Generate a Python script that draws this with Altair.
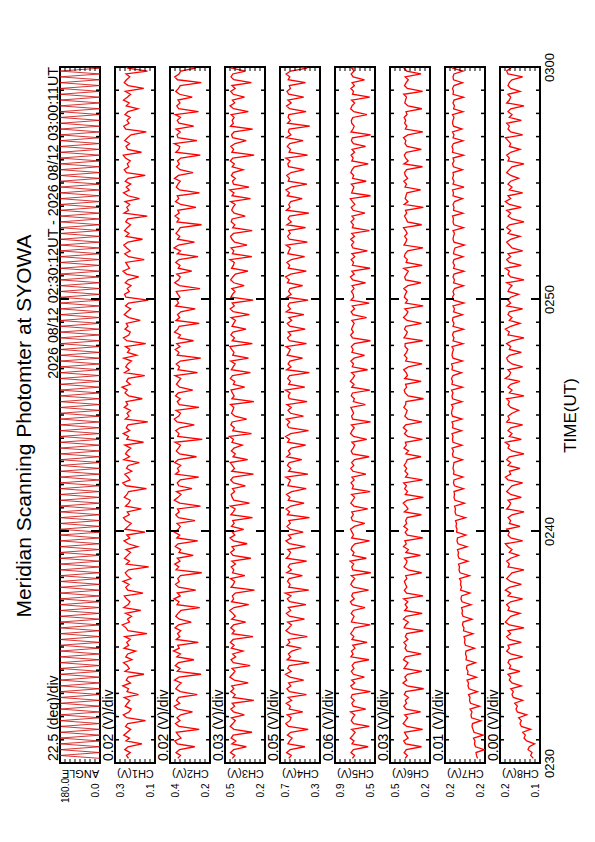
import altair as alt
import numpy as np
import pandas as pd

FONT = "Liberation Sans"
TITLE = "Meridian Scanning Photomter at SYOWA"
PERIOD = "2026 08/12 02:30:12UT - 2026 08/12 03:00:11UT"

# time axis (minutes after 02:30 UT)
TIME_TICK_VALUES = [0, 10, 20, 30]
TIME_TICK_LABELS = ["0230", "0240", "0250", "0300"]
MAJOR_TICKS = [10, 20]
MINOR_TICKS = [m for m in range(1, 30) if m not in MAJOR_TICKS]

PANEL_NAMES = ["ANGLE", "CH1(V)", "CH2(V)", "CH3(V)", "CH4(V)", "CH5(V)", "CH6(V)", "CH7(V)", "CH8(V)"]
PANEL_DIV_TEXT = ["22.5 (deg)/div", "0.02 (V)/div", "0.02 (V)/div", "0.03 (V)/div", "0.05 (V)/div",
                  "0.06 (V)/div", "0.03 (V)/div", "0.01 (V)/div", "0.00 (V)/div"]
PANEL_LO = [0.0, 0.12, 0.22, 0.24, 0.30, 0.46, 0.24, 0.16, 0.13]
PANEL_HI = [180.0, 0.28, 0.38, 0.48, 0.70, 0.94, 0.48, 0.24, 0.16]
N_DIV = 8

# all series sampled every 7.5 s starting 02:30:12
START_MIN, STEP_MIN = 0.2, 0.125

# scan angle (deg)
ANG_DEG = [
    0, 180, 0, 180, 0, 180, 0, 180, 0, 180, 0, 180, 0, 180, 0, 180, 0, 180, 0, 180,
    0, 180, 0, 180, 0, 180, 0, 180, 0, 180, 0, 180, 0, 180, 0, 180, 0, 180, 0, 180,
    0, 180, 0, 180, 0, 180, 0, 180, 0, 180, 0, 180, 0, 180, 0, 180, 0, 180, 0, 180,
    0, 180, 0, 180, 0, 180, 0, 180, 0, 180, 0, 180, 0, 180, 0, 180, 0, 180, 0, 180,
    0, 180, 0, 180, 0, 180, 0, 180, 0, 180, 0, 180, 0, 180, 0, 180, 0, 180, 0, 180,
    0, 180, 0, 180, 0, 180, 0, 180, 0, 180, 0, 180, 0, 180, 0, 180, 0, 180, 0, 180,
    0, 180, 0, 180, 0, 180, 0, 180, 0, 180, 0, 180, 0, 180, 0, 180, 0, 180, 0, 180,
    0, 180, 0, 180, 0, 180, 0, 180, 0, 180, 0, 180, 0, 180, 0, 180, 0, 180, 0, 180,
    0, 180, 0, 180, 0, 180, 0, 180, 0, 180, 0, 180, 0, 180, 0, 180, 0, 180, 0, 180,
    0, 180, 0, 180, 0, 180, 0, 180, 0, 180, 0, 180, 0, 180, 0, 180, 0, 180, 0, 180,
    0, 180, 0, 180, 0, 180, 0, 180, 0, 180, 0, 180, 0, 180, 0, 180, 0, 180, 0, 180,
    0, 180, 0, 180, 0, 180, 0, 180, 0, 180, 0, 180, 0, 180, 0, 180, 0, 180, 0, 180,
]

# photometer channels, in mV
CH1_MV = [
    226,234,219,241,228,172,236,222,245,231,217,238,229,158,233,247,224,215,239,230,
    221,243,186,232,226,249,218,235,227,164,240,223,231,246,212,237,229,197,244,225,
    233,219,241,152,228,236,251,222,230,214,238,177,245,227,220,234,243,168,229,237,
    224,248,216,231,239,226,145,235,222,242,230,218,236,189,227,244,221,233,160,240,
    228,215,237,246,223,231,175,238,225,219,243,232,226,154,236,249,220,229,241,213,
    234,227,183,245,222,238,230,217,241,166,233,226,247,221,235,228,149,239,224,232,
    218,243,229,236,171,225,240,231,252,219,234,227,161,242,223,237,229,214,245,193,
    230,221,238,157,233,246,225,219,240,228,235,179,224,243,231,217,238,226,147,236,
    242,223,231,216,239,227,185,234,248,222,230,237,163,226,241,219,233,245,228,170,
    236,224,242,231,218,237,229,151,244,226,233,221,240,182,228,246,223,235,217,239,
    227,159,234,243,225,231,219,238,247,174,229,236,222,241,230,216,155,237,245,224,
    232,219,240,228,188,235,223,246,231,218,239,165,227,243,234,221,236,150,229,241]
CH2_MV = [
    349,338,356,342,281,351,361,336,347,355,263,344,358,340,352,337,290,349,363,341,
    354,345,271,339,357,348,335,362,344,256,351,340,359,346,284,353,338,366,343,349,
    267,355,341,350,337,360,346,295,342,357,348,336,261,352,344,364,339,351,277,346,
    358,343,349,338,253,356,345,361,340,351,287,344,337,359,348,269,353,341,362,347,
    339,352,280,346,357,343,350,258,341,363,348,336,354,292,345,351,339,265,358,344,
    350,337,361,347,274,342,355,346,338,360,251,349,344,357,340,283,352,363,345,338,
    356,264,343,351,339,358,347,289,341,354,346,337,360,270,348,342,355,339,257,351,
    344,359,340,353,286,347,338,362,349,343,263,356,341,350,337,279,358,346,352,340,
    348,355,260,342,361,345,339,353,293,347,340,357,344,268,351,338,364,346,282,350,
    341,356,347,339,254,352,344,360,343,349,276,337,358,345,351,262,342,355,348,339,
    362,346,288,340,354,343,350,337,259,357,345,341,363,272,348,352,339,356,285,344,
    351,338,359,266,345,353,340,348,291,342,357,346,339,255,350,361,344,337,278,353]
CH3_MV = [
    436,421,447,428,352,439,415,443,431,318,426,449,433,418,441,364,429,445,422,437,
    307,432,419,446,427,440,341,424,451,435,420,438,329,430,444,416,434,372,442,425,
    448,431,312,437,423,445,429,356,440,418,433,452,426,338,441,428,436,419,303,444,
    430,422,447,361,435,427,443,417,439,325,432,446,424,438,347,429,450,421,436,368,
    441,425,434,315,445,430,419,448,333,427,437,443,422,435,358,428,446,431,309,440,
    423,436,449,344,432,418,442,426,376,438,429,453,321,434,424,445,437,350,420,441,
    433,427,447,306,439,425,436,444,362,430,421,448,435,328,442,431,419,446,339,434,
    426,440,451,316,437,423,445,432,354,438,428,417,443,334,431,449,424,437,311,445,
    435,420,439,365,427,446,433,418,342,441,430,424,450,319,436,427,444,348,422,438,
    447,429,317,434,421,443,437,359,425,440,432,419,446,327,438,426,451,336,429,435,
    418,442,431,371,437,424,448,433,305,439,428,445,420,353,434,441,426,314,447,430,
    437,425,443,340,429,450,422,436,363,431,446,419,438,322,427,444,433,357,440,426]
CH4_MV = [
    612,587,634,598,451,621,603,579,626,594,418,615,642,601,589,628,472,608,596,637,
    584,619,436,605,631,592,614,463,600,645,588,623,607,409,629,595,616,581,488,633,
    602,618,427,597,640,611,585,624,455,606,636,593,617,441,604,627,590,648,412,613,
    599,625,608,476,632,586,619,601,433,638,610,594,622,447,606,641,589,615,468,603,
    630,597,612,405,627,604,639,591,459,618,600,635,583,438,621,609,596,643,421,614,
    592,626,607,482,633,598,616,587,443,624,605,644,593,415,611,628,602,637,466,595,
    620,588,631,429,608,617,599,646,452,613,596,623,604,407,634,590,619,601,474,629,
    611,597,640,435,606,625,592,618,448,603,627,584,612,461,638,595,621,606,419,632,
    589,614,601,473,626,608,645,593,437,617,603,631,586,454,622,610,597,639,426,607,
    624,598,615,444,631,587,619,604,411,636,600,612,593,478,628,605,641,590,431,618,
    606,633,589,457,614,622,599,642,424,609,595,627,603,469,637,591,616,608,402,625,
    597,619,611,439,604,635,588,621,463,613,630,596,607,445,618,602,639,594,428,611]
CH5_MV = [
    731,705,748,719,542,736,712,757,724,698,741,528,716,745,729,702,753,571,722,738,
    709,747,733,515,726,751,704,739,588,720,744,713,735,707,532,749,723,742,700,728,
    555,737,714,752,727,706,519,743,730,711,746,721,579,734,755,708,740,725,537,717,
    750,732,703,744,511,726,739,715,758,564,729,712,747,734,701,525,741,718,736,754,
    708,583,731,745,720,739,547,713,750,727,704,742,518,733,719,748,710,737,569,725,
    751,714,740,706,531,729,746,722,703,738,559,717,753,735,709,743,513,728,741,716,
    732,749,576,720,707,745,730,522,739,712,756,726,704,741,549,733,718,750,711,585,
    737,723,744,708,516,730,752,719,742,727,710,738,561,724,747,705,733,529,749,716,
    721,743,712,735,574,728,754,709,738,520,731,717,746,703,737,552,725,742,714,751,
    706,739,527,732,719,748,711,736,581,723,745,702,730,756,514,740,727,713,744,566,
    729,716,750,734,708,541,738,722,747,705,735,573,719,743,731,512,748,724,710,739,
    744,726,557,713,752,736,704,741,523,730,718,749,707,735,586,722,746,711,738,534]
CH6_MV = [
    389,376,395,382,291,386,398,371,384,393,284,379,401,387,374,392,296,383,397,381,
    388,369,394,385,278,377,402,380,391,375,289,396,384,372,399,387,293,378,390,382,
    397,373,388,380,281,395,386,370,400,383,287,392,376,389,373,398,282,381,394,379,
    387,394,379,386,290,371,396,384,378,393,297,385,370,399,382,391,283,376,389,374,
    397,380,386,377,292,394,372,383,401,379,280,388,375,392,381,398,285,387,373,390,
    380,395,384,376,294,385,369,396,382,388,286,374,393,379,400,386,289,372,391,383,
    377,397,386,384,279,371,389,395,380,387,293,392,375,383,398,370,288,386,378,394,
    381,373,390,389,284,396,384,376,393,385,291,378,399,382,372,391,281,387,375,394,
    388,379,397,373,295,386,392,381,370,398,287,383,376,394,389,374,282,396,385,379,
    392,377,386,399,290,375,383,393,380,387,280,395,372,389,384,378,296,390,381,397,
    374,388,393,380,285,397,371,386,394,382,292,377,390,385,399,373,283,388,379,392,
    386,395,378,384,289,372,391,387,381,398,284,376,393,383,370,389,294,380,396,385]
CH7_MV = [
    175,177,178,161,179,181,180,183,164,182,184,186,185,168,187,188,186,190,171,189,
    191,190,193,175,192,194,193,196,177,195,194,197,196,179,198,197,199,198,181,199,
    201,200,202,184,203,202,205,204,186,204,206,205,207,188,206,208,207,190,209,207,
    209,208,211,191,210,212,211,213,194,212,214,213,215,196,214,216,215,198,217,216,
    218,217,219,199,218,220,219,221,201,220,222,221,222,203,221,223,222,204,223,222,
    224,223,222,205,224,225,223,226,206,224,225,224,226,207,225,224,226,206,225,227,
    226,224,227,206,225,226,224,227,205,226,225,227,224,207,226,225,227,205,224,226,
    225,223,226,204,224,222,225,223,203,224,222,225,224,205,223,221,224,202,223,225,
    222,224,221,203,223,221,224,222,202,223,221,224,222,204,223,222,220,201,222,224,
    223,221,224,203,222,224,223,225,204,223,222,224,221,205,224,223,225,202,224,222,
    225,223,224,205,223,225,222,224,203,225,224,226,223,204,224,222,225,206,223,225,
    224,222,225,204,223,221,224,222,203,224,223,225,222,205,223,224,222,204,225,223]
CH8_MV = [
    135,137,136,139,138,134,140,142,141,143,137,144,145,144,146,140,147,148,147,149,
    143,150,151,150,152,144,151,153,152,154,145,153,152,154,153,143,152,155,153,154,
    144,153,155,152,154,142,153,156,154,152,145,154,153,155,152,143,154,152,156,153,
    144,152,155,153,151,142,154,153,155,152,146,153,151,154,156,143,152,154,153,155,
    145,153,152,154,151,142,155,153,152,154,144,152,155,153,151,143,154,156,152,153,
    145,154,152,155,153,142,151,154,153,156,144,153,151,154,152,143,155,153,154,151,
    146,152,154,153,155,142,153,151,154,152,145,156,153,152,154,143,151,154,155,153,
    144,153,152,155,151,142,154,153,156,152,145,153,151,154,153,143,155,152,154,152,
    146,154,153,151,155,142,152,154,153,156,144,153,155,152,154,143,151,153,155,152,
    145,154,152,155,153,142,151,154,152,155,144,153,156,152,154,143,153,151,154,152,
    146,152,155,153,151,142,154,153,155,152,145,153,152,154,156,143,152,154,153,155,
    144,153,151,154,152,142,155,153,152,154,145,152,154,153,151,143,154,155,152,153]

W, H = 40, 696

SERIES = [ANG_DEG] + [[x / 1000 for x in ch] for ch in
                      [CH1_MV, CH2_MV, CH3_MV, CH4_MV, CH5_MV, CH6_MV, CH7_MV, CH8_MV]]

time_label_expr = " : ".join(
    f"datum.value === {v} ? '{s}'" for v, s in zip(TIME_TICK_VALUES[:-1], TIME_TICK_LABELS[:-1])
) + f" : '{TIME_TICK_LABELS[-1]}'"

yscale = alt.Scale(domain=[0, 30], nice=False, zero=False)
minor_df = pd.DataFrame({"t": MINOR_TICKS})
major_df = pd.DataFrame({"t": MAJOR_TICKS})


def text_layer(s, **mark_kw):
    pos = {k: mark_kw.pop(k) for k in ("x", "y")}
    return alt.Chart(pd.DataFrame({"s": [s]})).mark_text(font=FONT, color="black", **mark_kw).encode(
        text="s:N", x=alt.value(pos["x"]), y=alt.value(pos["y"]))


def make_panel(i):
    v = SERIES[i]
    t = START_MIN + STEP_MIN * np.arange(len(v))
    lo, hi = PANEL_LO[i], PANEL_HI[i]
    mid = (lo + hi) / 2
    xscale = alt.Scale(domain=[lo, hi], reverse=True, nice=False, zero=False)
    xaxis = alt.Axis(
        values=[hi, lo], format=".1f", labelAngle=270, labelAlign="center",
        labelBaseline={"condition": {"test": f"datum.value > {mid}", "value": "top"}, "value": "bottom"},
        labelPadding=27, labelFontSize=10, labelColor="black", labelFlush=False, labelOverlap=False,
        ticks=False, tickSize=0, domain=False, grid=False,
        title=PANEL_NAMES[i], titleAngle=180, titleAlign="center", titleBaseline="middle",
        titleY=9, titleFontSize=11, titleFontWeight="normal", titleColor="black",
    )
    if i == len(SERIES) - 1:
        yaxis = alt.Axis(
            orient="right", values=TIME_TICK_VALUES, labelExpr=time_label_expr,
            labelAngle=270, labelAlign="center", labelBaseline="top", labelPadding=3,
            labelFontSize=13, labelColor="black", labelFlush=False, labelOverlap=False,
            ticks=False, tickSize=0, domain=False, grid=False,
            title="TIME(UT)", titleAngle=270, titleAlign="center", titleBaseline="top",
            titleX=22, titleY=H / 2, titleFontSize=17, titleFontWeight="normal", titleColor="black",
        )
    else:
        yaxis = None

    df = pd.DataFrame({"t": t, "v": v})
    color = "#cc0000" if i == 0 else "#ff0000"
    sw = 0.8 if i == 0 else 1.3
    line = alt.Chart(df).mark_line(color=color, strokeWidth=sw, clip=True).encode(
        x=alt.X("v:Q", scale=xscale, axis=xaxis),
        y=alt.Y("t:Q", scale=yscale, axis=yaxis),
        order="t:Q",
    )

    layers = [line]
    for d, length, w in [(minor_df, 4, 1.5), (major_df, 9, 2)]:
        base = alt.Chart(d).mark_rule(color="black", strokeWidth=w)
        layers.append(base.encode(y=alt.Y("t:Q", scale=yscale, axis=yaxis),
                                  x=alt.value(0), x2=alt.value(length)))
        layers.append(base.encode(y=alt.Y("t:Q", scale=yscale, axis=yaxis),
                                  x=alt.value(W), x2=alt.value(W - length)))

    div = (hi - lo) / N_DIV
    vt_df = pd.DataFrame({"v": [lo + k * div for k in range(1, N_DIV)]})
    vbase = alt.Chart(vt_df).mark_rule(color="black", strokeWidth=1)
    layers.append(vbase.encode(x=alt.X("v:Q", scale=xscale, axis=xaxis),
                               y=alt.value(H), y2=alt.value(H - 4)))
    layers.append(vbase.encode(x=alt.X("v:Q", scale=xscale, axis=xaxis),
                               y=alt.value(0), y2=alt.value(4)))

    layers.append(text_layer(PANEL_DIV_TEXT[i], angle=270, align="left", baseline="alphabetic",
                             fontSize=14, x=-2, y=H - 2))
    if i == 0:
        layers.append(text_layer(PERIOD, angle=270, align="right", baseline="alphabetic",
                                 fontSize=14.3, x=-2, y=0))
        layers.append(text_layer(TITLE, angle=270, align="center", baseline="alphabetic",
                                 fontSize=21, x=-29, y=359))

    return alt.layer(*layers).properties(width=W, height=H)


panels = [make_panel(i) for i in range(len(SERIES))]

chart = alt.hconcat(*panels, spacing=15, bounds="flush").properties(
    padding={"left": 4, "top": 43, "right": 2, "bottom": 5},
).configure(font=FONT).configure_view(stroke="black", strokeWidth=2)

chart.save("out.html", embed_options={"renderer": "svg", "actions": False})
